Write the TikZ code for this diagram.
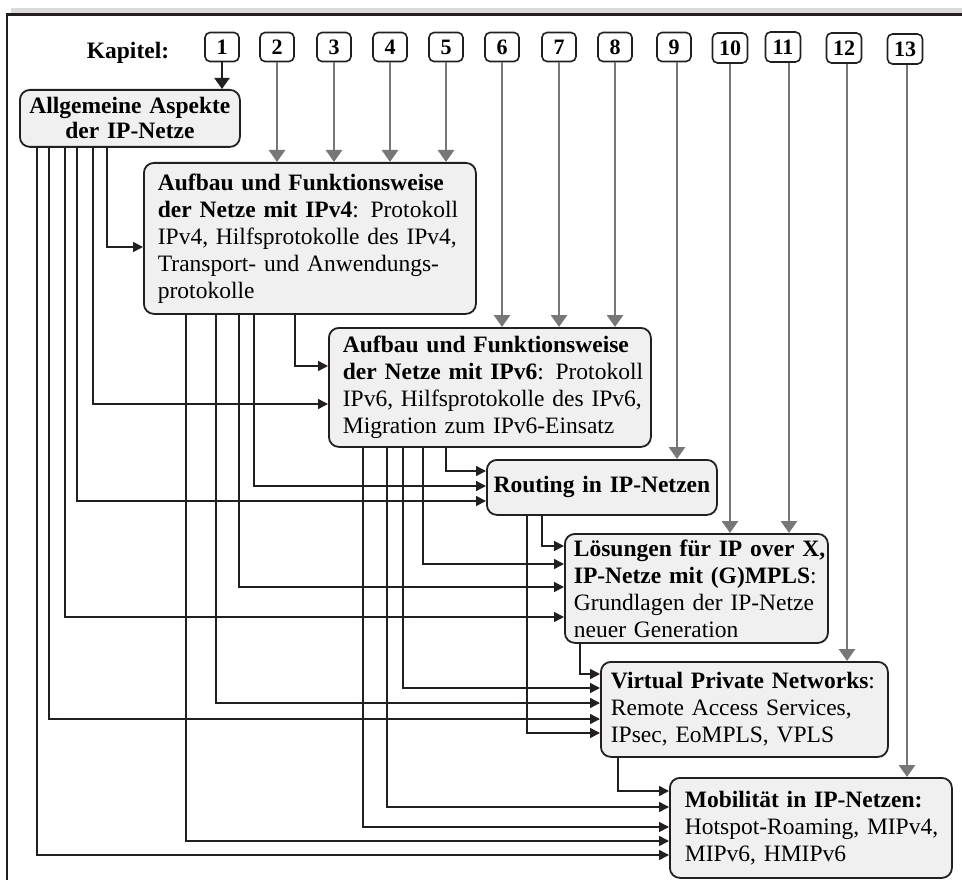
\documentclass[tikz,border=0pt]{standalone}
\usepackage{fontspec}
\setmainfont{Liberation Serif}
\usetikzlibrary{arrows.meta}
\definecolor{boxfill}{HTML}{F0F0F0}
\definecolor{lineblack}{HTML}{231F20}
\definecolor{arrowgray}{HTML}{777777}
\definecolor{bandgray}{HTML}{DADADA}
\tikzset{
  topic/.style={draw=lineblack, line width=1.8pt, fill=boxfill, rounded corners=10pt,
    anchor=north west, inner ysep=0pt, align=left, font=\fontsize{23.5}{27}\selectfont},
  chap/.style={draw=lineblack, line width=1.6pt, fill=white, rounded corners=5pt,
    minimum width=34pt, minimum height=29pt, inner sep=0pt,
    font=\bfseries\fontsize{22}{22}\selectfont},
  garrow/.style={draw=arrowgray, line width=2.8pt, -{Triangle[length=12pt,width=16pt]}},
  barrow/.style={draw=lineblack, line width=1.5pt, -{Triangle[length=10pt,width=10pt]}},
  karrow/.style={draw=lineblack, line width=2pt, -{Triangle[length=11pt,width=15pt]}},
}
\begin{document}
\begin{tikzpicture}[x=1pt,y=-1pt]
\useasboundingbox (0,0) rectangle (962,880);
% frame
\fill[bandgray] (11,8) rectangle (962,13);
\draw[lineblack, line width=2.5pt] (5.5,14.5) -- (962,14.5);
\draw[lineblack, line width=2pt] (6.5,13.5) -- (6.5,880);

% chapter label and boxes
\node[font=\bfseries\fontsize{23.5}{27}\selectfont] (kap) at (128,53) {Kapitel:};
\foreach \n/\x/\y in {1/222/47, 2/277/47, 3/334/47, 4/390/47, 5/446/47, 6/502/47,
  7/559/47, 8/615/47, 9/674/47}
  \node[chap] (c\n) at (\x,\y) {\n};
\foreach \n/\x/\y in {10/730/48, 11/783/47, 12/844/48, 13/905/49}
  \node[chap, minimum width=35pt, minimum height=30pt] (c\n) at (\x,\y) {\n};

% topic boxes
\node[topic, align=center, font=\bfseries\fontsize{23.5}{25}\selectfont,
  minimum width=220pt, minimum height=57pt, inner xsep=4pt, text width=212pt]
  (A) at (19,89) {Allgemeine Aspekte\\der IP-Netze};
\node[topic, minimum width=332pt, minimum height=151pt, inner xsep=14pt, text width=304pt]
  (B) at (143,162)
  {\mbox{\textbf{Aufbau und Funktionsweise}}\\
   \mbox{\textbf{der Netze mit IPv4}: Protokoll}\\
   \mbox{IPv4, Hilfsprotokolle des IPv4,}\\
   \mbox{Transport- und Anwendungs-}\\
   \mbox{protokolle}};
\node[topic, minimum width=322pt, minimum height=119pt, inner xsep=14pt, text width=294pt]
  (C) at (328,327)
  {\mbox{\textbf{Aufbau und Funktionsweise}}\\
   \mbox{\textbf{der Netze mit IPv6}: Protokoll}\\
   \mbox{IPv6, Hilfsprotokolle des IPv6,}\\
   \mbox{Migration zum IPv6-Einsatz}};
\node[topic, align=center, font=\bfseries\fontsize{23.5}{27}\selectfont,
  minimum width=230pt, minimum height=55pt, inner xsep=4pt, text width=222pt]
  (D) at (486,459) {Routing in IP-Netzen};
\node[topic, minimum width=263pt, minimum height=109pt, inner xsep=9pt, text width=245pt]
  (E) at (564,533)
  {\mbox{\textbf{Lösungen für IP over X,}}\\
   \mbox{\textbf{IP-Netze mit (G)MPLS}:}\\
   \mbox{Grundlagen der IP-Netze}\\
   \mbox{neuer Generation}};
\node[topic, minimum width=287pt, minimum height=95pt, inner xsep=10pt, text width=267pt]
  (F) at (600,661)
  {\mbox{\textbf{Virtual Private Networks}:}\\
   \mbox{Remote Access Services,}\\
   \mbox{IPsec, EoMPLS, VPLS}};
\node[topic, minimum width=282pt, minimum height=100pt, inner xsep=15pt, text width=252pt]
  (G) at (669,777)
  {\mbox{\textbf{Mobilität in IP-Netzen:}}\\
   \mbox{Hotspot-Roaming, MIPv4,}\\
   \mbox{MIPv6, HMIPv6}};

% chapter arrows
\draw[karrow] (c1.south) -- (c1.south |- A.north);
\foreach \n in {2,3,4,5}
  \draw[garrow] (c\n.south) -- (c\n.south |- B.north);
\foreach \n in {6,7,8}
  \draw[garrow] (c\n.south) -- (c\n.south |- C.north);
\draw[garrow] ([xshift=3pt]c9.south) -- ([xshift=3pt]c9.south |- D.north);
\draw[garrow] (c10.south) -- (c10.south |- E.north);
\draw[garrow] ([xshift=6pt]c11.south) -- ([xshift=6pt]c11.south |- E.north);
\draw[garrow] ([xshift=3pt]c12.south) -- ([xshift=3pt]c12.south |- F.north);
\draw[garrow] ([xshift=2pt]c13.south) -- ([xshift=2pt]c13.south |- G.north);

% dependency connectors
\foreach \src/\x/\dst/\y in {
  A/107/B/247, A/93/C/404, A/77/D/501, A/65/E/617, A/49/F/719, A/37/G/855,
  B/295/C/366, B/254/D/486, B/239/E/587, B/216/F/703, B/186/G/841,
  C/446/D/471, C/423/E/564, C/403/F/688, C/387/G/807, C/363/G/827,
  D/542/E/546, D/527/F/733, E/580/F/674, F/618/G/791}
  \draw[barrow] (\x,0 |- \src.south) |- (\dst.west |- 0,\y);
\end{tikzpicture}
\end{document}
